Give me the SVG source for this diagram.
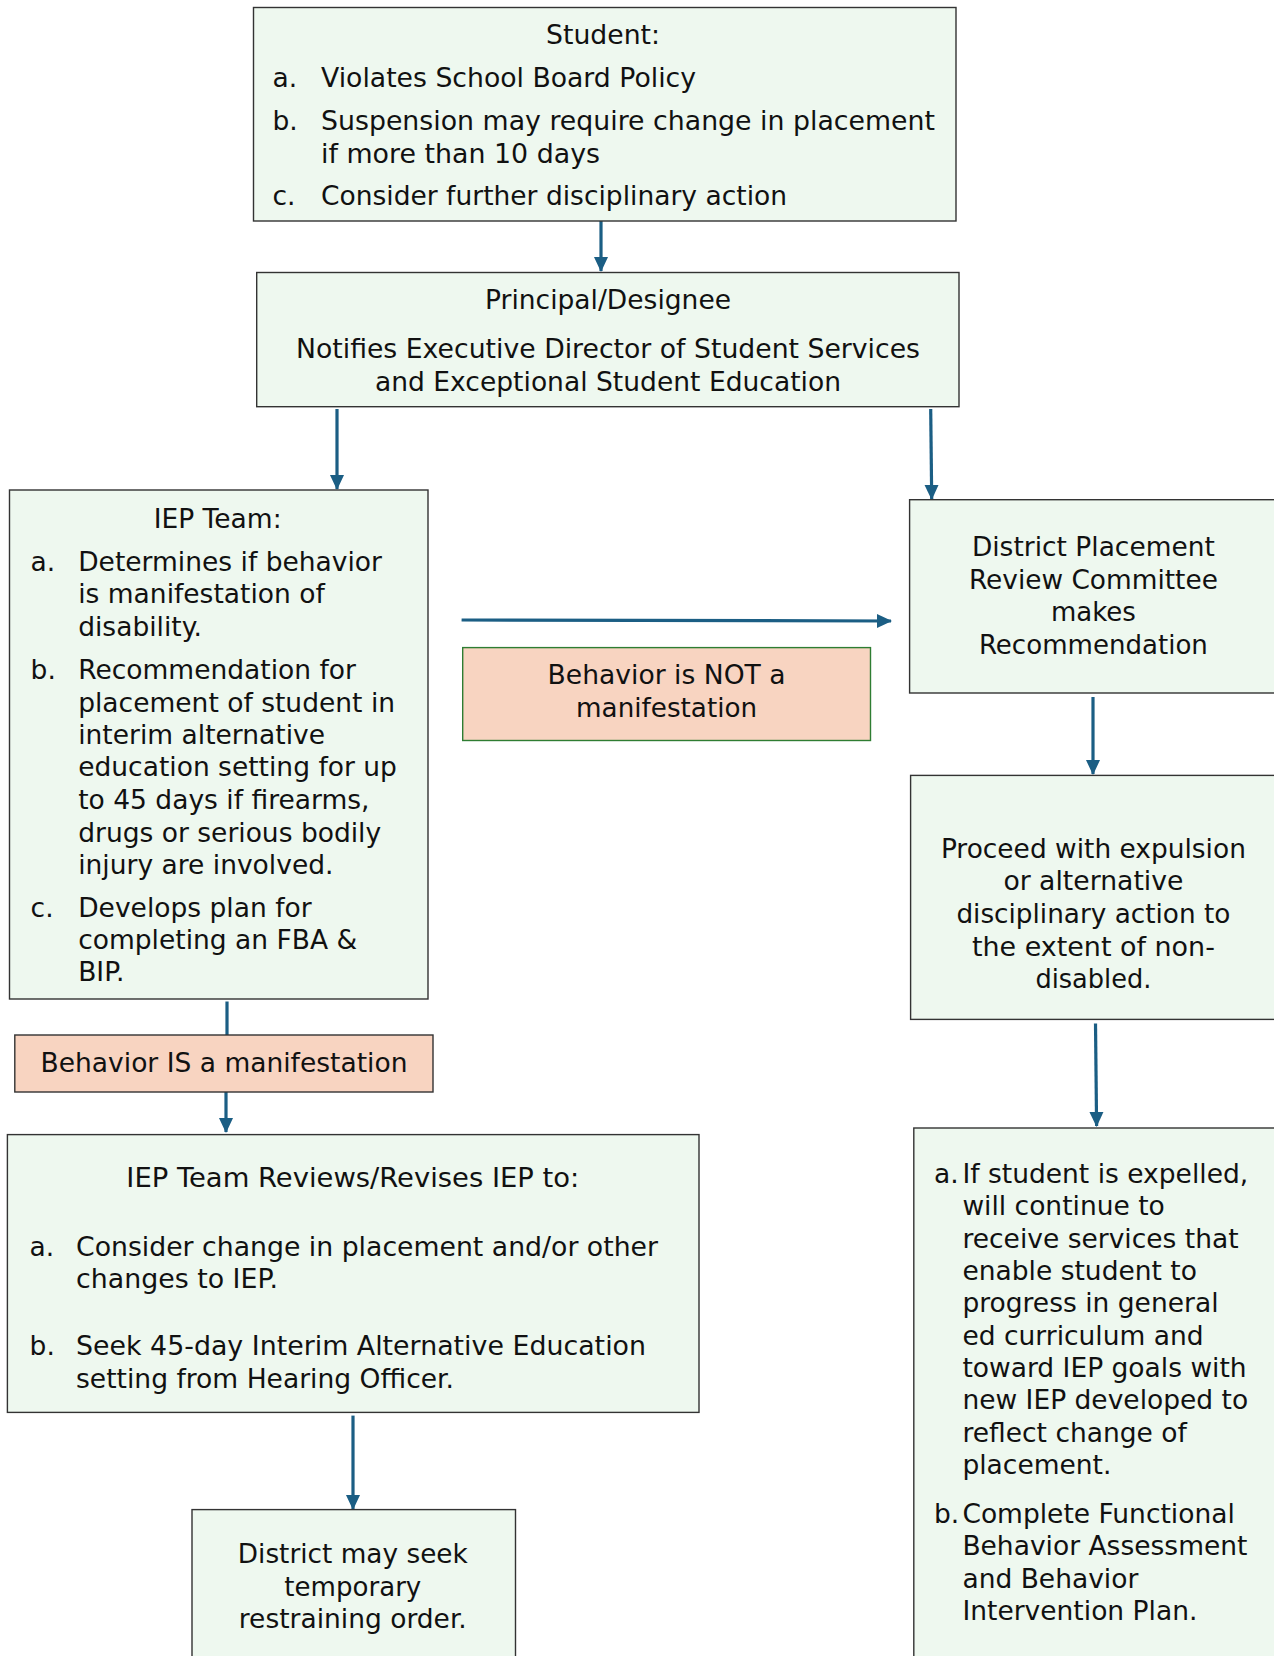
<svg xmlns="http://www.w3.org/2000/svg" width="1274" height="1656" viewBox="0 0 1274 1656">
<style>
.box{fill:#EEF8EF;stroke:#333;stroke-width:1.4}
.pink{fill:#F8D4C1;stroke:#333;stroke-width:1.4}
.pinkg{fill:#F8D4C1;stroke:#2E7D32;stroke-width:1.4}
text{font-family:"DejaVu Sans","Liberation Sans",sans-serif;font-size:26.5px;fill:#111}
.c{text-anchor:middle}
.conn{stroke:#1B5E84;stroke-width:3.2;fill:none}
</style>
<defs>
<marker id="ah" markerUnits="userSpaceOnUse" markerWidth="16" markerHeight="16" viewBox="0 0 16 16" refX="14" refY="8" orient="auto">
<path d="M0,1 L15,8 L0,15 Z" fill="#1B5E84"/>
</marker>
</defs>
<g id="connectors">
<line class="conn" x1="601" y1="221" x2="601" y2="271" marker-end="url(#ah)"/>
<line class="conn" x1="337" y1="409" x2="337" y2="489" marker-end="url(#ah)"/>
<line class="conn" x1="930.7" y1="409" x2="931.7" y2="499" marker-end="url(#ah)"/>
<line class="conn" x1="461.6" y1="620" x2="891" y2="621" marker-end="url(#ah)"/>
<line class="conn" x1="1093" y1="697" x2="1093" y2="774" marker-end="url(#ah)"/>
<line class="conn" x1="1095.5" y1="1023.6" x2="1096.6" y2="1126" marker-end="url(#ah)"/>
<line class="conn" x1="227" y1="1001.5" x2="227" y2="1035"/>
<line class="conn" x1="226" y1="1092" x2="226" y2="1132" marker-end="url(#ah)"/>
<line class="conn" x1="353" y1="1415.6" x2="353" y2="1509" marker-end="url(#ah)"/>
</g>
<g id="student">
<rect class="box" x="253.5" y="7.5" width="702.5" height="213.5"/>
<text class="c" x="603" y="44" textLength="114" lengthAdjust="spacingAndGlyphs">Student:</text>
<text x="272.5" y="87">a.</text>
<text x="321" y="87" textLength="375" lengthAdjust="spacingAndGlyphs">Violates School Board Policy</text>
<text x="272.5" y="130">b.</text>
<text x="321" y="130" textLength="614" lengthAdjust="spacingAndGlyphs">Suspension may require change in placement</text>
<text x="321" y="163" textLength="279" lengthAdjust="spacingAndGlyphs">if more than 10 days</text>
<text x="272.5" y="205">c.</text>
<text x="321" y="205" textLength="466" lengthAdjust="spacingAndGlyphs">Consider further disciplinary action</text>
</g>
<g id="principal">
<rect class="box" x="256.7" y="272.5" width="702.3" height="134.2"/>
<text class="c" x="608" y="309" textLength="246" lengthAdjust="spacingAndGlyphs">Principal/Designee</text>
<text class="c" x="608" y="358" textLength="624" lengthAdjust="spacingAndGlyphs">Notifies Executive Director of Student Services</text>
<text class="c" x="608" y="391" textLength="466" lengthAdjust="spacingAndGlyphs">and Exceptional Student Education</text>
</g>
<g id="iep-team">
<rect class="box" x="9.5" y="490" width="418.5" height="509"/>
<text class="c" x="217.6" y="528">IEP Team:</text>
<text x="30.6" y="571">a.</text>
<text x="78.2" y="571">Determines if behavior</text>
<text x="78.2" y="603">is manifestation of</text>
<text x="78.2" y="636">disability.</text>
<text x="30.6" y="679">b.</text>
<text x="78.2" y="679">Recommendation for</text>
<text x="78.2" y="712">placement of student in</text>
<text x="78.2" y="744">interim alternative</text>
<text x="78.2" y="776">education setting for up</text>
<text x="78.2" y="809">to 45 days if firearms,</text>
<text x="78.2" y="842">drugs or serious bodily</text>
<text x="78.2" y="874">injury are involved.</text>
<text x="30.6" y="917">c.</text>
<text x="78.2" y="917">Develops plan for</text>
<text x="78.2" y="949">completing an FBA &amp;</text>
<text x="78.2" y="981">BIP.</text>
</g>
<g id="not-manifestation">
<rect class="pinkg" x="462.7" y="647.6" width="407.8" height="92.9"/>
<text class="c" x="666.6" y="684" textLength="238" lengthAdjust="spacingAndGlyphs">Behavior is NOT a</text>
<text class="c" x="666.6" y="717" textLength="181" lengthAdjust="spacingAndGlyphs">manifestation</text>
</g>
<g id="district-placement">
<rect class="box" x="909.6" y="499.7" width="380" height="193.3"/>
<text class="c" x="1093.4" y="556" textLength="243" lengthAdjust="spacingAndGlyphs">District Placement</text>
<text class="c" x="1093.4" y="589" textLength="249" lengthAdjust="spacingAndGlyphs">Review Committee</text>
<text class="c" x="1093.4" y="621" textLength="85" lengthAdjust="spacingAndGlyphs">makes</text>
<text class="c" x="1093.4" y="654" textLength="229" lengthAdjust="spacingAndGlyphs">Recommendation</text>
</g>
<g id="proceed">
<rect class="box" x="910.6" y="775.4" width="380" height="244"/>
<text class="c" x="1093.4" y="858" textLength="305" lengthAdjust="spacingAndGlyphs">Proceed with expulsion</text>
<text class="c" x="1093.4" y="890" textLength="180" lengthAdjust="spacingAndGlyphs">or alternative</text>
<text class="c" x="1093.4" y="923" textLength="274" lengthAdjust="spacingAndGlyphs">disciplinary action to</text>
<text class="c" x="1093.4" y="956" textLength="243" lengthAdjust="spacingAndGlyphs">the extent of non-</text>
<text class="c" x="1093.4" y="988" textLength="116" lengthAdjust="spacingAndGlyphs">disabled.</text>
</g>
<g id="expelled">
<rect class="box" x="913.8" y="1128" width="380" height="540"/>
<text x="933.9" y="1183">a.</text>
<text x="962.4" y="1183">If student is expelled,</text>
<text x="962.4" y="1215">will continue to</text>
<text x="962.4" y="1248">receive services that</text>
<text x="962.4" y="1280">enable student to</text>
<text x="962.4" y="1312">progress in general</text>
<text x="962.4" y="1345">ed curriculum and</text>
<text x="962.4" y="1377">toward IEP goals with</text>
<text x="962.4" y="1409">new IEP developed to</text>
<text x="962.4" y="1442">reflect change of</text>
<text x="962.4" y="1474">placement.</text>
<text x="933.9" y="1523">b.</text>
<text x="962.4" y="1523">Complete Functional</text>
<text x="962.4" y="1555">Behavior Assessment</text>
<text x="962.4" y="1588">and Behavior</text>
<text x="962.4" y="1620">Intervention Plan.</text>
</g>
<g id="is-manifestation">
<rect class="pink" x="14.8" y="1035" width="418.2" height="57"/>
<text class="c" x="224" y="1072">Behavior IS a manifestation</text>
</g>
<g id="iep-reviews">
<rect class="box" x="7.4" y="1134.6" width="691.6" height="277.8"/>
<text class="c" x="352.8" y="1187" textLength="453" lengthAdjust="spacingAndGlyphs">IEP Team Reviews/Revises IEP to:</text>
<text x="29.6" y="1256">a.</text>
<text x="76" y="1256" textLength="582" lengthAdjust="spacingAndGlyphs">Consider change in placement and/or other</text>
<text x="76" y="1288" textLength="202" lengthAdjust="spacingAndGlyphs">changes to IEP.</text>
<text x="29.6" y="1355">b.</text>
<text x="76" y="1355" textLength="570" lengthAdjust="spacingAndGlyphs">Seek 45-day Interim Alternative Education</text>
<text x="76" y="1388" textLength="378" lengthAdjust="spacingAndGlyphs">setting from Hearing Officer.</text>
</g>
<g id="restraining">
<rect class="box" x="192" y="1509.6" width="323.5" height="160"/>
<text class="c" x="352.8" y="1563" textLength="230" lengthAdjust="spacingAndGlyphs">District may seek</text>
<text class="c" x="352.8" y="1596" textLength="137" lengthAdjust="spacingAndGlyphs">temporary</text>
<text class="c" x="352.8" y="1628" textLength="228" lengthAdjust="spacingAndGlyphs">restraining order.</text>
</g>
</svg>
